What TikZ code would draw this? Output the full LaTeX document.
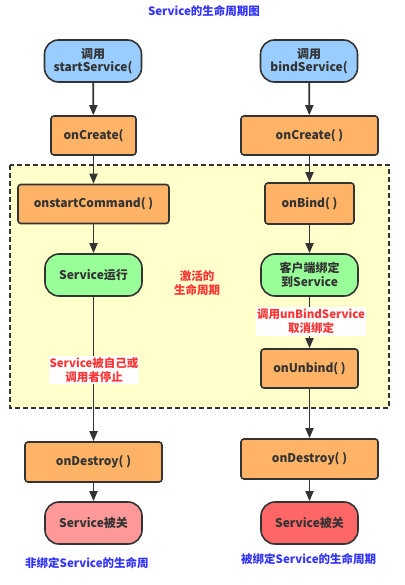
\documentclass[tikz,border=0pt]{standalone}
\usepackage{fontspec}
\setmainfont{Noto Sans CJK SC}
\usetikzlibrary{arrows.meta}
\definecolor{ink}{HTML}{333333}
\definecolor{tblue}{HTML}{99CCFF}
\definecolor{porange}{HTML}{FFB366}
\definecolor{sgreen}{HTML}{99FF99}
\definecolor{epink}{HTML}{FF9999}
\definecolor{ered}{HTML}{FF6666}
\definecolor{zone}{HTML}{FFFFCC}
\definecolor{redtext}{HTML}{FF3333}
\definecolor{bluetext}{HTML}{3333FF}
\tikzset{
  base/.style={draw=ink, line width=1.6pt, text=ink, font=\fontsize{12}{13.5}\selectfont\bfseries, align=center, inner sep=0pt},
  term/.style={base, rounded corners=14pt, minimum width=97pt, minimum height=42pt},
  proc/.style={base, rounded corners=3pt, fill=porange, minimum height=39pt},
  flow/.style={draw=ink, line width=1.8pt, -{Triangle[length=10pt,width=8pt]}},
  note/.style={text=redtext, font=\fontsize{11.5}{14}\selectfont\bfseries, align=center, inner sep=1pt},
  captext/.style={text=bluetext, font=\fontsize{11.5}{13}\selectfont\bfseries, inner sep=0pt}
}
\begin{document}
\begin{tikzpicture}[x=1pt,y=-1pt]
\useasboundingbox (0,0) rectangle (404,585);
\fill[white] (0,0) rectangle (404,585);
\node[captext] (title) at (204,11) {Service的生命周期图};
\draw[draw=ink, fill=zone, line width=1.6pt, dash pattern=on 5pt off 3pt] (10,165) rectangle (389,408);
\node[note] (act) at (197,283) {激活的\\生命周期};
% left column
\node[term, fill=tblue] (t1) at (93,61) {调用\\startService(};
\node[proc, minimum width=85pt] (c1) at (93.5,135.5) {onCreate(};
\node[proc, minimum width=151pt] (sc) at (93.5,204) {onstartCommand( )};
\node[term, fill=sgreen] (sr) at (93.5,275) {Service运行};
\node[proc, minimum width=137pt, minimum height=40pt] (d1) at (93.5,462) {onDestroy( )};
\node[term, fill=epink] (k1) at (93.5,523) {Service被关};
\node[captext, anchor=west] (cap1) at (25,563) {非绑定Service的生命周};
% right column
\node[term, fill=tblue] (t2) at (309,61) {调用\\bindService(};
\node[proc, minimum width=137pt] (c2) at (309.5,135.5) {onCreate( )};
\node[proc, minimum width=89pt, minimum height=41pt] (ob) at (309.5,203.5) {onBind( )};
\node[term, fill=sgreen] (kb) at (309.5,275) {客户端绑定\\到Service};
\node[proc, minimum width=97pt] (ub) at (309.5,368.5) {onUnbind( )};
\node[proc, minimum width=137pt, minimum height=40pt] (d2) at (309.5,459) {onDestroy( )};
\node[term, fill=ered] (k2) at (309.5,523) {Service被关};
\node[captext, anchor=west] (cap2) at (241,559) {被绑定Service的生命周期};
% arrows left
\draw[flow] (t1) -- (c1);
\draw[flow] (c1) -- (sc);
\draw[flow] (sc) -- (sr);
\draw[flow] (sr) -- (d1);
\draw[flow] (d1) -- (k1);
% arrows right
\draw[flow] (t2) -- (c2);
\draw[flow] (c2) -- (ob);
\draw[flow] (ob) -- (kb);
\draw[flow] (kb) -- (ub);
\draw[flow] (ub) -- (d2);
\draw[flow] (d2) -- (k2);
% labels on lines
\node[note, fill=white, minimum width=90pt, minimum height=27pt] (stop) at (94,370) {Service被自己或\\调用者停止};
\node[note, fill=white, minimum width=110pt, minimum height=29pt] (unb) at (311,321.5) {调用unBindService\\取消绑定};
\end{tikzpicture}
\end{document}
